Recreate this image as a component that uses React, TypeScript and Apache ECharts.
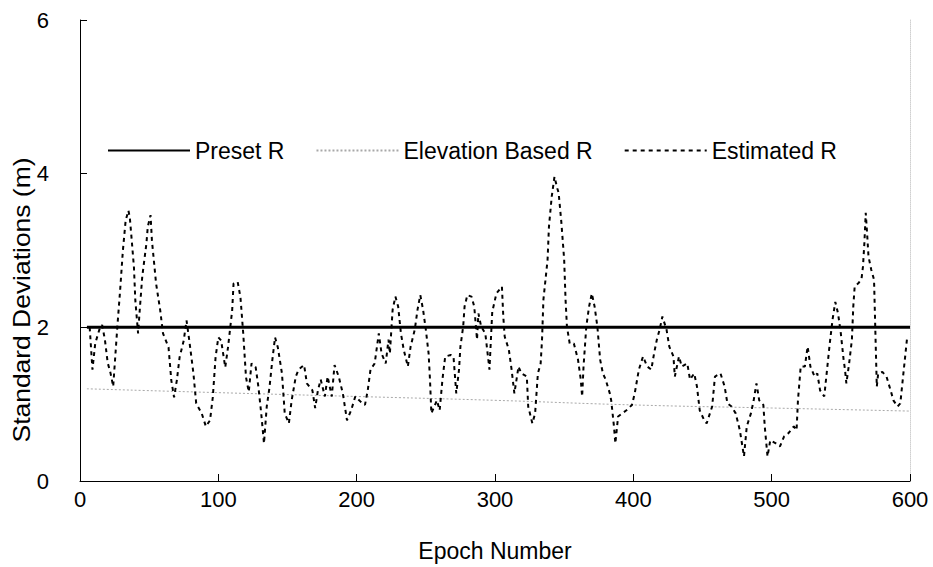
import React, { useEffect, useRef } from "react";
import * as echarts from "echarts";

const xTicks = [0, 100, 200, 300, 400, 500, 600];
const yTicks = [0, 2, 4, 6];

const presetEpochs = [5, 600];
const presetR = [2.0, 2.0];

const elevationEpochs = [5, 100, 200, 300, 400, 500, 600];
const elevationR = [1.2, 1.15, 1.1, 1.05, 0.99, 0.95, 0.91];

const estimatedR: [number, number][] = [
  [7, 2.0], [9, 1.45], [11, 1.79], [14, 1.97], [16, 2.03], [18, 1.84], [20, 1.54], [22, 1.41], [24, 1.23], [25, 1.49],
  [27, 2.01], [29, 2.48], [31, 3.0], [33, 3.39], [35, 3.52], [36, 3.43], [37, 3.22], [39, 2.78], [40, 2.35], [42, 1.92],
  [43, 2.18], [45, 2.66], [48, 3.09], [49, 3.31], [51, 3.46], [52, 3.13], [55, 2.57], [58, 2.22], [60, 1.92], [64, 1.74],
  [66, 1.31], [68, 1.09], [70, 1.31], [72, 1.61], [75, 1.83], [77, 2.09], [79, 1.83], [82, 1.4], [84, 1.01], [88, 0.88],
  [91, 0.71], [94, 0.79], [96, 1.09], [98, 1.61], [100, 1.87], [102, 1.83], [105, 1.48], [107, 1.74], [110, 2.22], [111, 2.57],
  [114, 2.59], [116, 2.39], [118, 1.92], [120, 1.35], [122, 1.16], [124, 1.53], [127, 1.48], [129, 1.22], [131, 0.88], [133, 0.49],
  [135, 0.97], [137, 1.22], [139, 1.57], [141, 1.87], [143, 1.74], [146, 1.4], [148, 0.88], [151, 0.75], [153, 1.05], [156, 1.36],
  [158, 1.45], [162, 1.51], [164, 1.27], [168, 1.18], [170, 0.95], [172, 1.18], [174, 1.32], [177, 1.1], [179, 1.36], [182, 1.1],
  [184, 1.51], [187, 1.36], [190, 1.14], [193, 0.79], [196, 0.92], [199, 1.1], [203, 1.03], [206, 0.99], [208, 1.18], [210, 1.45],
  [213, 1.53], [215, 1.79], [216, 1.92], [218, 1.66], [221, 1.53], [223, 1.84], [224, 1.66], [226, 2.23], [228, 2.4], [230, 2.27],
  [232, 1.92], [234, 1.71], [237, 1.49], [239, 1.75], [242, 1.97], [244, 2.23], [246, 2.42], [248, 2.23], [250, 1.97], [252, 1.66],
  [253, 1.32], [254, 0.88], [258, 1.05], [260, 0.92], [262, 1.32], [264, 1.62], [268, 1.64], [270, 1.62], [272, 1.14], [274, 1.45],
  [275, 1.75], [277, 2.01], [278, 2.27], [280, 2.42], [283, 2.4], [285, 2.27], [287, 1.84], [288, 2.18], [290, 2.01], [293, 1.92],
  [296, 1.45], [298, 2.2], [301, 2.44], [305, 2.53], [306, 2.14], [307, 1.88], [310, 1.71], [312, 1.45], [314, 1.14], [317, 1.49],
  [319, 1.4], [323, 1.36], [324, 0.97], [327, 0.75], [329, 0.88], [331, 1.4], [333, 1.53], [334, 1.84], [335, 2.36], [338, 2.88],
  [339, 3.31], [341, 3.7], [343, 3.96], [345, 3.81], [346, 3.75], [348, 3.36], [350, 2.88], [351, 2.36], [352, 2.01], [354, 1.79],
  [357, 1.79], [360, 1.58], [362, 1.32], [363, 1.1], [364, 1.49], [366, 2.01], [368, 2.27], [370, 2.44], [372, 2.27], [374, 2.01],
  [376, 1.58], [378, 1.4], [380, 1.32], [383, 1.14], [384, 1.05], [386, 0.71], [387, 0.49], [389, 0.84], [392, 0.88], [395, 0.92],
  [399, 0.99], [401, 1.14], [404, 1.45], [407, 1.62], [410, 1.49], [413, 1.45], [415, 1.66], [417, 1.84], [419, 1.97], [421, 2.14],
  [424, 1.97], [426, 1.75], [429, 1.62], [430, 1.36], [433, 1.62], [435, 1.49], [439, 1.53], [441, 1.32], [444, 1.4], [446, 1.23],
  [448, 0.92], [451, 0.8], [453, 0.75], [457, 0.97], [459, 1.36], [463, 1.4], [466, 1.23], [468, 1.01], [471, 0.97], [474, 0.88],
  [477, 0.66], [480, 0.32], [482, 0.71], [485, 0.88], [487, 1.05], [489, 1.27], [491, 1.05], [494, 0.99], [495, 0.71], [497, 0.32],
  [499, 0.53], [503, 0.49], [506, 0.45], [509, 0.58], [512, 0.62], [516, 0.71], [518, 0.66], [519, 1.05], [521, 1.49], [524, 1.49],
  [526, 1.75], [528, 1.49], [531, 1.36], [533, 1.4], [535, 1.18], [538, 1.1], [539, 1.27], [542, 1.79], [544, 2.1], [546, 2.33],
  [548, 2.18], [550, 1.92], [552, 1.58], [553, 1.45], [554, 1.27], [556, 1.53], [558, 1.84], [559, 2.27], [560, 2.53], [563, 2.58],
  [565, 2.64], [566, 2.79], [567, 3.09], [568, 3.49], [569, 3.22], [570, 2.92], [572, 2.75], [574, 2.62], [575, 1.92], [576, 1.23],
  [577, 1.4], [580, 1.42], [583, 1.36], [586, 1.18], [588, 1.05], [591, 0.97], [593, 1.01], [595, 1.36], [598, 1.88],
];

const FONT = "'Liberation Sans', Arial, sans-serif";

export default function App() {
  const ref = useRef<HTMLDivElement>(null);
  useEffect(() => {
    if (!ref.current) return;
    const chart = echarts.init(ref.current, null, { renderer: "svg" });
    chart.setOption({
      animation: false,
      backgroundColor: "#ffffff",
      textStyle: { fontFamily: FONT, color: "#000" },
      grid: { left: 80, right: 23, top: 20, bottom: 86, containLabel: false, outerBoundsMode: "none" },
      legend: {
        left: 102,
        top: 134,
        itemWidth: 82,
        itemHeight: 14,
        itemGap: 31,
        itemStyle: { opacity: 0 },
        textStyle: { fontFamily: FONT, fontSize: 23, color: "#000" },
        data: ["Preset R", "Elevation Based R", "Estimated R"],
      },
      graphic: [
        {
          type: "text",
          x: 22,
          y: 300,
          rotation: Math.PI / 2,
          scaleX: 1.15,
          style: {
            text: "Standard Deviations (m)",
            font: `23px ${FONT}`,
            fill: "#000",
            align: "center",
            verticalAlign: "middle",
          },
        },
      ],
      xAxis: {
        type: "value",
        min: xTicks[0],
        max: xTicks[xTicks.length - 1],
        interval: 100,
        name: "Epoch Number",
        nameLocation: "middle",
        nameGap: 58,
        nameTextStyle: { fontFamily: FONT, fontSize: 23, color: "#000" },
        axisLine: { show: true, lineStyle: { color: "#000", width: 1 } },
        axisTick: { show: true, inside: true, length: 7, lineStyle: { color: "#000" } },
        axisLabel: { fontFamily: FONT, fontSize: 22, color: "#000", margin: 7 },
        splitLine: { show: false },
      },
      yAxis: [
        {
          type: "value",
          min: yTicks[0],
          max: yTicks[yTicks.length - 1],
          interval: 2,
          axisLine: { show: true, lineStyle: { color: "#000", width: 1 } },
          axisTick: { show: true, inside: true, length: 7, lineStyle: { color: "#000" } },
          axisLabel: { fontFamily: FONT, fontSize: 22, color: "#000", margin: 31 },
          splitLine: { show: false },
        },
        {
          type: "value",
          position: "right",
          min: yTicks[0],
          max: yTicks[yTicks.length - 1],
          interval: 2,
          axisLine: { show: true, lineStyle: { color: "#d0d0d0", width: 1, type: "dotted" } },
          axisTick: { show: false },
          axisLabel: { show: false },
          splitLine: { show: false },
        },
      ],
      series: [
        {
          name: "Preset R",
          type: "line",
          symbol: "none",
          data: presetEpochs.map((x, i) => [x, presetR[i]]),
          lineStyle: { color: "#000", width: 3, type: "solid" },
          itemStyle: { color: "#000" },
          z: 3,
        },
        {
          name: "Elevation Based R",
          type: "line",
          symbol: "none",
          smooth: true,
          data: elevationEpochs.map((x, i) => [x, elevationR[i]]),
          lineStyle: { color: "#a8a8a8", width: 1, type: [2, 2] },
          itemStyle: { color: "#a8a8a8" },
          z: 2,
        },
        {
          name: "Estimated R",
          type: "line",
          symbol: "none",
          data: estimatedR,
          lineStyle: { color: "#000", width: 2, type: [4, 4] },
          itemStyle: { color: "#000" },
          z: 4,
        },
      ],
    });
    return () => chart.dispose();
  }, []);
  return <div ref={ref} style={{ width: 933, height: 567, position: "absolute", left: 0, top: 0 }} />;
}
